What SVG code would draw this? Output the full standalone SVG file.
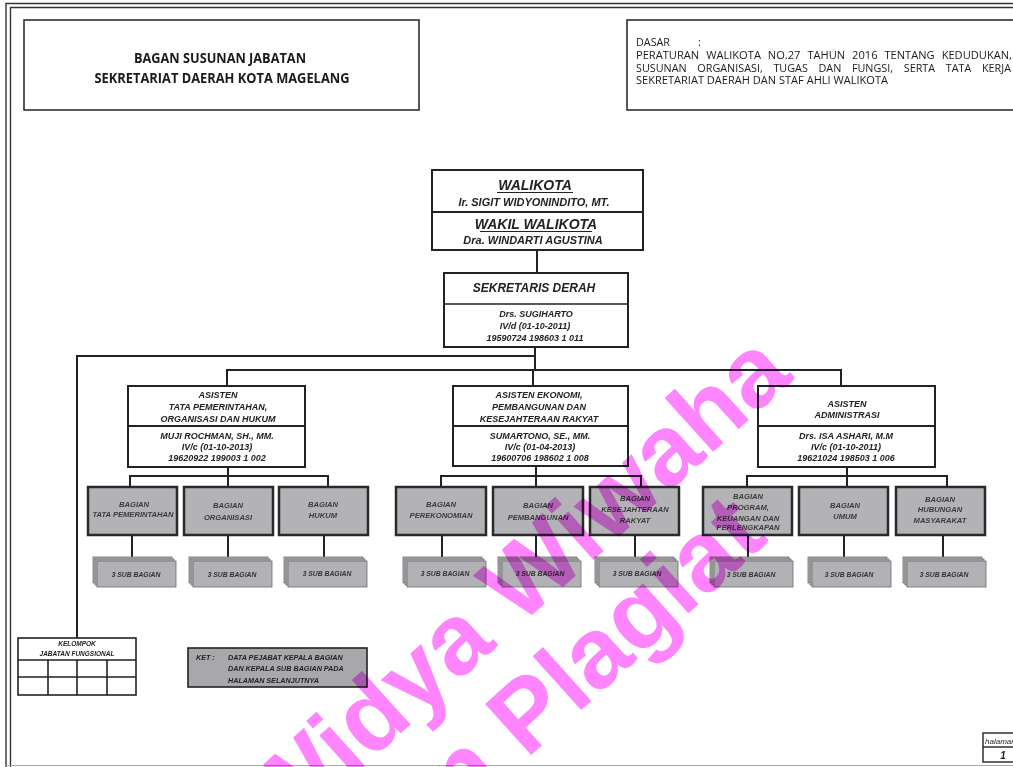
<svg xmlns="http://www.w3.org/2000/svg" width="1013" height="767" viewBox="0 0 1013 767">
<style>
.frame{fill:none;stroke:#333;stroke-width:1.4}
.box{fill:#fff;stroke:#222;stroke-width:2}
.gbox{fill:#b3b3b7;stroke:#2a2a2a;stroke-width:2.5}
.sub{fill:#b2b2b6;stroke:#6a6a6a;stroke-width:0.8}
.ln{fill:none;stroke:#222;stroke-width:2}
.t{font-family:"Liberation Sans",Arial,sans-serif;font-weight:bold;font-style:italic;text-anchor:middle;fill:#222}
.bt{font-family:"Liberation Sans",Arial,sans-serif;font-weight:bold;font-style:italic;text-anchor:middle;fill:#3a3a3a;font-size:7.6px}
.st{font-family:"Liberation Sans",Arial,sans-serif;font-weight:bold;font-style:italic;text-anchor:middle;fill:#333;font-size:6.8px}
.a{font-size:9px}
.cal{font-family:"Open Sans","Liberation Sans",sans-serif;fill:#1a1a1a}
.wm{font-family:"Liberation Sans",Arial,sans-serif;font-weight:bold;font-size:100px;fill:#ff85ff;mix-blend-mode:multiply}
</style>
<rect width="1013" height="767" fill="#fff"/>
<g id="frame">
<path class="frame" d="M6,767 V3.5 H1013"/>
<path class="frame" d="M10.5,767 V7.5 H1013"/>
<path d="M6,765.5 H1013" stroke="#aaa" stroke-width="1.2"/>
</g>
<g id="title">
<rect x="24" y="20" width="395" height="90" fill="#fff" stroke="#222" stroke-width="1.5"/>
<text class="cal" x="220" y="63" font-size="15" font-weight="bold" text-anchor="middle" textLength="172" lengthAdjust="spacingAndGlyphs">BAGAN SUSUNAN JABATAN</text>
<text class="cal" x="222" y="83" font-size="15" font-weight="bold" text-anchor="middle" textLength="255" lengthAdjust="spacingAndGlyphs">SEKRETARIAT DAERAH KOTA MAGELANG</text>
</g>
<g id="dasar">
<rect x="627" y="20" width="400" height="90" fill="#fff" stroke="#222" stroke-width="1.5"/>
<text class="cal" x="636" y="46" font-size="11" font-weight="500" textLength="34" lengthAdjust="spacingAndGlyphs">DASAR</text>
<text class="cal" x="698" y="46" font-size="11">:</text>
<text class="cal" x="636" y="59" font-size="11" font-weight="500" textLength="376" lengthAdjust="spacingAndGlyphs" word-spacing="4">PERATURAN WALIKOTA NO.27 TAHUN 2016 TENTANG KEDUDUKAN,</text>
<text class="cal" x="636" y="71.5" font-size="11" font-weight="500" textLength="375" lengthAdjust="spacingAndGlyphs" word-spacing="8">SUSUNAN ORGANISASI, TUGAS DAN FUNGSI, SERTA TATA KERJA</text>
<text class="cal" x="636" y="84" font-size="11" font-weight="500" textLength="252" lengthAdjust="spacingAndGlyphs">SEKRETARIAT DAERAH DAN STAF AHLI WALIKOTA</text>
</g>
<g id="connectors">
<path class="ln" d="M537,250 V273"/>
<path class="ln" d="M535,347 V370"/>
<path class="ln" d="M535,356 H77 V638"/>
<path class="ln" d="M227,386 V370 H841 V386"/>
<path class="ln" d="M533,370 V386"/>
<path class="ln" d="M228,467 V476"/>
<path class="ln" d="M130,487 V476 H328 V487"/>
<path class="ln" d="M228,476 V487"/>
<path class="ln" d="M132,535 V558 M228,535 V558 M324,535 V558"/>
<path class="ln" d="M536,466 V476"/>
<path class="ln" d="M441,487 V476 H641 V487"/>
<path class="ln" d="M536,476 V487"/>
<path class="ln" d="M442,535 V558 M536,535 V558 M635,535 V558"/>
<path class="ln" d="M847,467 V476"/>
<path class="ln" d="M747,487 V476 H947 V487"/>
<path class="ln" d="M847,476 V487"/>
<path class="ln" d="M748,535 V558 M844,535 V558 M943,535 V558"/>
</g>
<g id="walikota">
<rect class="box" x="432" y="170" width="211" height="80"/>
<line x1="432" y1="212" x2="643" y2="212" stroke="#222" stroke-width="2"/>
<text class="t" x="535" y="190" font-size="14">WALIKOTA</text>
<line x1="497" y1="192.5" x2="573" y2="192.5" stroke="#222" stroke-width="1.2"/>
<text class="t" x="534" y="206" font-size="11">Ir. SIGIT WIDYONINDITO, MT.</text>
<text class="t" x="536" y="229" font-size="14">WAKIL WALIKOTA</text>
<line x1="480" y1="231.5" x2="592" y2="231.5" stroke="#222" stroke-width="1.2"/>
<text class="t" x="533" y="244" font-size="11">Dra. WINDARTI AGUSTINA</text>
</g>
<g id="sekretaris">
<rect class="box" x="444" y="273" width="184" height="74"/>
<line x1="444" y1="304" x2="628" y2="304" stroke="#222" stroke-width="1.5"/>
<text class="t" x="534" y="292" font-size="12">SEKRETARIS DERAH</text>
<text class="t" x="536" y="316.5" font-size="9">Drs. SUGIHARTO</text>
<text class="t" x="535" y="328.5" font-size="9">IV/d (01-10-2011)</text>
<text class="t" x="535" y="340.5" font-size="9">19590724 198603 1 011</text>
</g>
<g id="asisten-1">
<rect class="box" x="128" y="386" width="177" height="81"/>
<line x1="128" y1="426" x2="305" y2="426" stroke="#222" stroke-width="2"/>
<text class="t a" x="218" y="398">ASISTEN</text>
<text class="t a" x="218" y="410">TATA PEMERINTAHAN,</text>
<text class="t a" x="218" y="422">ORGANISASI DAN HUKUM</text>
<text class="t a" x="217" y="439">MUJI ROCHMAN, SH., MM.</text>
<text class="t a" x="217" y="450">IV/c (01-10-2013)</text>
<text class="t a" x="217" y="461">19620922 199003 1 002</text>
</g>
<g id="asisten-2">
<rect class="box" x="453" y="386" width="175" height="80"/>
<line x1="453" y1="426" x2="628" y2="426" stroke="#222" stroke-width="2"/>
<text class="t a" x="539" y="398">ASISTEN EKONOMI,</text>
<text class="t a" x="539" y="410">PEMBANGUNAN DAN</text>
<text class="t a" x="539" y="422">KESEJAHTERAAN RAKYAT</text>
<text class="t a" x="540" y="439">SUMARTONO, SE., MM.</text>
<text class="t a" x="540" y="450">IV/c (01-04-2013)</text>
<text class="t a" x="540" y="461">19600706 198602 1 008</text>
</g>
<g id="asisten-3">
<rect class="box" x="758" y="386" width="177" height="81"/>
<line x1="758" y1="426" x2="935" y2="426" stroke="#222" stroke-width="2"/>
<text class="t a" x="847" y="406.5">ASISTEN</text>
<text class="t a" x="847" y="417.5">ADMINISTRASI</text>
<text class="t a" x="846" y="439">Drs. ISA ASHARI, M.M</text>
<text class="t a" x="846" y="450">IV/c (01-10-2011)</text>
<text class="t a" x="846" y="461">19621024 198503 1 006</text>
</g>
<g id="bagian-tata-pemerintahan">
<rect class="gbox" x="88" y="487" width="89" height="48"/>
<text class="bt" x="134" y="507">BAGIAN</text>
<text class="bt" x="133" y="517">TATA PEMERINTAHAN</text>
</g>
<g id="bagian-organisasi">
<rect class="gbox" x="184" y="487" width="89" height="48"/>
<text class="bt" x="228" y="508">BAGIAN</text>
<text class="bt" x="228" y="520">ORGANISASI</text>
</g>
<g id="bagian-hukum">
<rect class="gbox" x="279" y="487" width="89" height="48"/>
<text class="bt" x="323" y="507">BAGIAN</text>
<text class="bt" x="323" y="518">HUKUM</text>
</g>
<g id="bagian-perekonomian">
<rect class="gbox" x="396" y="487" width="90" height="48"/>
<text class="bt" x="441" y="507">BAGIAN</text>
<text class="bt" x="441" y="518">PEREKONOMIAN</text>
</g>
<g id="bagian-pembangunan">
<rect class="gbox" x="493" y="487" width="90" height="48"/>
<text class="bt" x="538" y="508">BAGIAN</text>
<text class="bt" x="538" y="520">PEMBANGUNAN</text>
</g>
<g id="bagian-kesejahteraan">
<rect class="gbox" x="590" y="487" width="89" height="48"/>
<text class="bt" x="635" y="501">BAGIAN</text>
<text class="bt" x="635" y="512">KESEJAHTERAAN</text>
<text class="bt" x="635" y="523">RAKYAT</text>
</g>
<g id="bagian-program">
<rect class="gbox" x="703" y="487" width="89" height="48"/>
<text class="bt" x="748" y="499">BAGIAN</text>
<text class="bt" x="748" y="510">PROGRAM,</text>
<text class="bt" x="748" y="520.5">KEUANGAN DAN</text>
<text class="bt" x="748" y="530">PERLENGKAPAN</text>
</g>
<g id="bagian-umum">
<rect class="gbox" x="799" y="487" width="89" height="48"/>
<text class="bt" x="845" y="508">BAGIAN</text>
<text class="bt" x="845" y="519">UMUM</text>
</g>
<g id="bagian-humas">
<rect class="gbox" x="896" y="487" width="89" height="48"/>
<text class="bt" x="940" y="502">BAGIAN</text>
<text class="bt" x="940" y="512">HUBUNGAN</text>
<text class="bt" x="940" y="523">MASYARAKAT</text>
</g>
<defs>
<g id="stack">
<rect class="sub" x="0" y="0" width="79" height="26"/>
<rect class="sub" x="2" y="2" width="79" height="26"/>
<rect class="sub" x="4" y="4" width="79" height="26"/>
</g>
</defs>
<g id="sub-1"><use href="#stack" x="93" y="557"/><text class="st" x="136" y="576.5">3  SUB BAGIAN</text></g>
<g id="sub-2"><use href="#stack" x="189" y="557"/><text class="st" x="232" y="577">3  SUB BAGIAN</text></g>
<g id="sub-3"><use href="#stack" x="284" y="557"/><text class="st" x="327" y="576">3  SUB BAGIAN</text></g>
<g id="sub-4"><use href="#stack" x="403" y="557"/><text class="st" x="445" y="575.5">3  SUB BAGIAN</text></g>
<g id="sub-5"><use href="#stack" x="498" y="557"/><text class="st" x="540" y="576">3  SUB BAGIAN</text></g>
<g id="sub-6"><use href="#stack" x="595" y="557"/><text class="st" x="637" y="575.5">3  SUB BAGIAN</text></g>
<g id="sub-7"><use href="#stack" x="710" y="557"/><text class="st" x="751" y="577">3  SUB BAGIAN</text></g>
<g id="sub-8"><use href="#stack" x="808" y="557"/><text class="st" x="849" y="577">3  SUB BAGIAN</text></g>
<g id="sub-9"><use href="#stack" x="903" y="557"/><text class="st" x="944" y="577">3  SUB BAGIAN</text></g>
<g id="kelompok">
<rect x="18" y="638" width="118" height="57" fill="#fff" stroke="#222" stroke-width="1.6"/>
<path d="M18,660 H136 M18,677 H136 M48,660 V695 M77,660 V695 M107,660 V695" stroke="#222" stroke-width="1.6" fill="none"/>
<text class="t" x="77" y="645.5" font-size="6.5">KELOMPOK</text>
<text class="t" x="77" y="655.5" font-size="6.5">JABATAN FUNGSIONAL</text>
</g>
<g id="ket">
<rect x="188" y="648" width="179" height="39" fill="#a8a8ac" stroke="#222" stroke-width="1.6"/>
<text class="t" x="196" y="660" font-size="7.2" style="text-anchor:start">KET :</text>
<text class="t" x="228" y="660" font-size="7.2" style="text-anchor:start">DATA PEJABAT KEPALA BAGIAN</text>
<text class="t" x="228" y="671" font-size="7.2" style="text-anchor:start">DAN KEPALA SUB BAGIAN PADA</text>
<text class="t" x="228" y="682.5" font-size="7.2" style="text-anchor:start">HALAMAN SELANJUTNYA</text>
</g>
<g id="halaman">
<rect x="983" y="733" width="40" height="29" fill="#fff" stroke="#222" stroke-width="1.4"/>
<line x1="983" y1="747" x2="1013" y2="747" stroke="#222" stroke-width="1.4"/>
<text x="985" y="744" font-family="Liberation Sans, Arial, sans-serif" font-style="italic" font-size="8" fill="#222">halaman</text>
<text class="t" x="1003" y="759" font-size="10">1</text>
</g>
<g id="watermark">
<text class="wm" transform="translate(280,842) rotate(-42)">Widya Wiwaha</text>
<text class="wm" transform="translate(770,540) rotate(-42)" text-anchor="end">Jangan Plagiat</text>
</g>
</svg>
